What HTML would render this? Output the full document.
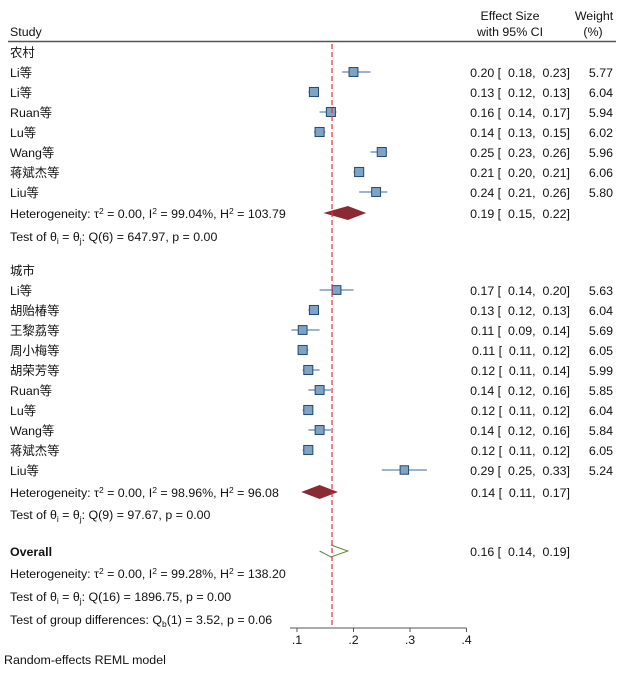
<!DOCTYPE html>
<html><head><meta charset="utf-8">
<style>
body{margin:0;background:#fff;}
svg text{font-family:"Liberation Sans","Noto Sans CJK SC",sans-serif;font-size:12.4px;fill:#111;white-space:pre;}
</style></head>
<body>
<svg id="chart" width="624" height="670" xmlns="http://www.w3.org/2000/svg">
<g id="static">
<text x="510" y="20" text-anchor="middle">Effect Size</text>
<text x="510" y="36" text-anchor="middle">with 95% CI</text>
<text x="594" y="20" text-anchor="middle">Weight</text>
<text x="593" y="36" text-anchor="middle">(%)</text>
<text x="10" y="36">Study</text>
<line x1="8" y1="41.5" x2="616" y2="41.5" stroke="#555" stroke-width="1.5"/>
<text x="10" y="57">农村</text>
<text x="10" y="275">城市</text>
<text x="10" y="218">Heterogeneity: τ<tspan dy="-4" font-size="8.5">2</tspan><tspan dy="4"> = 0.00, I</tspan><tspan dy="-4" font-size="8.5">2</tspan><tspan dy="4"> = 99.04%, H</tspan><tspan dy="-4" font-size="8.5">2</tspan><tspan dy="4"> = 103.79</tspan></text>
<text x="10" y="241">Test of θ<tspan dy="3" font-size="8.5">i</tspan><tspan dy="-3"> = θ</tspan><tspan dy="3" font-size="8.5">j</tspan><tspan dy="-3">: Q(6) = 647.97, p = 0.00</tspan></text>
<text x="10" y="497">Heterogeneity: τ<tspan dy="-4" font-size="8.5">2</tspan><tspan dy="4"> = 0.00, I</tspan><tspan dy="-4" font-size="8.5">2</tspan><tspan dy="4"> = 98.96%, H</tspan><tspan dy="-4" font-size="8.5">2</tspan><tspan dy="4"> = 96.08</tspan></text>
<text x="10" y="519">Test of θ<tspan dy="3" font-size="8.5">i</tspan><tspan dy="-3"> = θ</tspan><tspan dy="3" font-size="8.5">j</tspan><tspan dy="-3">: Q(9) = 97.67, p = 0.00</tspan></text>
<text x="10" y="556" font-weight="bold">Overall</text>
<text x="10" y="578">Heterogeneity: τ<tspan dy="-4" font-size="8.5">2</tspan><tspan dy="4"> = 0.00, I</tspan><tspan dy="-4" font-size="8.5">2</tspan><tspan dy="4"> = 99.28%, H</tspan><tspan dy="-4" font-size="8.5">2</tspan><tspan dy="4"> = 138.20</tspan></text>
<text x="10" y="601">Test of θ<tspan dy="3" font-size="8.5">i</tspan><tspan dy="-3"> = θ</tspan><tspan dy="3" font-size="8.5">j</tspan><tspan dy="-3">: Q(16) = 1896.75, p = 0.00</tspan></text>
<text x="10" y="624">Test of group differences: Q<tspan dy="3" font-size="8.5">b</tspan><tspan dy="-3">(1) = 3.52, p = 0.06</tspan></text>
<text x="4" y="664">Random-effects REML model</text>
</g>
<g id="marks"></g>
</svg>
<script>
const studies = ["Li等","Li等","Ruan等","Lu等","Wang等","蒋斌杰等","Liu等","Li等","胡贻椿等","王黎荔等","周小梅等","胡荣芳等","Ruan等","Lu等","Wang等","蒋斌杰等","Liu等"];
const est = [0.20,0.13,0.16,0.14,0.25,0.21,0.24,0.17,0.13,0.11,0.11,0.12,0.14,0.12,0.14,0.12,0.29];
const lo  = [0.18,0.12,0.14,0.13,0.23,0.20,0.21,0.14,0.12,0.09,0.11,0.11,0.12,0.11,0.12,0.11,0.25];
const hi  = [0.23,0.13,0.17,0.15,0.26,0.21,0.26,0.20,0.13,0.14,0.12,0.14,0.16,0.12,0.16,0.12,0.33];
const weights = [5.77,6.04,5.94,6.02,5.96,6.06,5.80,5.63,6.04,5.69,6.05,5.99,5.85,6.04,5.84,6.05,5.24];
const pooledNames = ["rural","urban","overall"];
const pooledEst = [0.19,0.14,0.16];
const pooledLo = [0.15,0.11,0.14];
const pooledHi = [0.22,0.17,0.19];
const overallLine = 0.162;
const ticks = [0.1,0.2,0.3,0.4];
const tickLabels = [".1",".2",".3",".4"];

const NS="http://www.w3.org/2000/svg";
const g=document.getElementById('marks');
function xs(v){return 297+(v-0.1)*565;}
function rowY(i){return i<7 ? 72+i*20 : 290+(i-7)*20;}
const pooledY=[213,492,551];
function mk(tag,attrs){const e=document.createElementNS(NS,tag);for(const k in attrs)e.setAttribute(k,attrs[k]);g.appendChild(e);return e;}
function f2(v){return v.toFixed(2);}

studies.forEach((s,i)=>{
  const y=rowY(i);
  const t=mk('text',{x:10,y:y+5});t.textContent=s;
  
  
  const l=mk('line',{x1:xs(lo[i]),x2:xs(hi[i]),y1:y,y2:y,stroke:'#3a6b9a','stroke-width':1});
  
  
  const sz=Math.sqrt(weights[i])*3.7;
  const r=mk('rect',{x:xs(est[i])-sz/2,y:y-sz/2,width:sz,height:sz,fill:'#7fa3c4',stroke:'#1f4a73','stroke-width':1});
  
  
  const e=mk('text',{x:570,y:y+5,'text-anchor':'end'});
  e.textContent=f2(est[i])+' [  '+f2(lo[i])+',  '+f2(hi[i])+']';
  
  
  const w=mk('text',{x:613,y:y+5,'text-anchor':'end'});w.textContent=weights[i].toFixed(2);
  
  
});

pooledNames.forEach((n,i)=>{
  const y=pooledY[i];
  const a=xs(pooledLo[i]),b=xs(pooledHi[i]),c=xs(pooledEst[i]);
  let d;
  if(i<2){
    d=mk('polygon',{points:`${a},${y} ${c},${y-6.5} ${b},${y} ${c},${y+6.5}`,fill:'#8b2a35',stroke:'#8b2a35'});
  } else {
    d=mk('polyline',{points:`${a},${y} ${c},${y+6} ${b},${y} ${c},${y-6}`,fill:'none',stroke:'#5a8a3a','stroke-width':1});
  }
  
  
  const e=mk('text',{x:570,y:y+5,'text-anchor':'end'});
  e.textContent=f2(pooledEst[i])+' [  '+f2(pooledLo[i])+',  '+f2(pooledHi[i])+']';
  
  
});

const ref=mk('line',{x1:xs(overallLine),x2:xs(overallLine),y1:44,y2:628,stroke:'#e8303a','stroke-width':1.2,'stroke-dasharray':'5,3'});


const ax=mk('line',{x1:290,x2:xs(0.4),y1:628,y2:628,stroke:'#555','stroke-width':1});


ticks.forEach((v,i)=>{
  const tk=mk('line',{x1:xs(v),x2:xs(v),y1:628,y2:632,stroke:'#555'});
  
  
  const tl=mk('text',{x:xs(v),y:644,'text-anchor':'middle'});tl.textContent=tickLabels[i];
  
  
});
</script>
</body></html>
